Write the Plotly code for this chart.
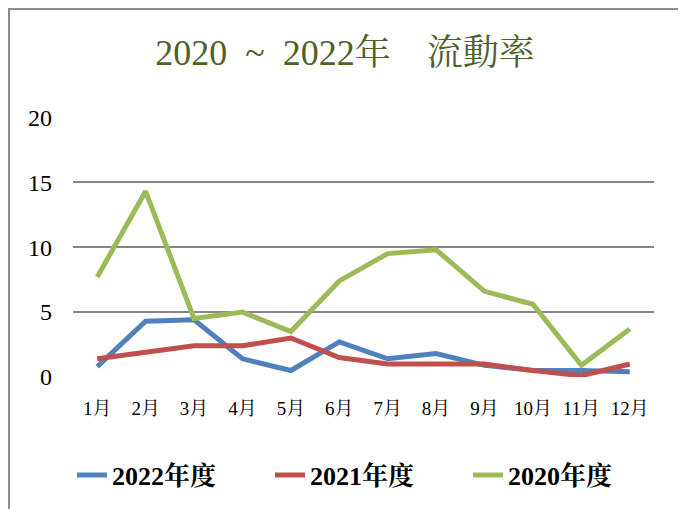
import plotly.graph_objects as go

months = ["1月", "2月", "3月", "4月", "5月", "6月", "7月", "8月", "9月", "10月", "11月", "12月"]
s2022 = [0.8, 4.3, 4.4, 1.4, 0.5, 2.7, 1.4, 1.8, 0.9, 0.5, 0.5, 0.4]
s2021 = [1.4, 1.9, 2.4, 2.4, 3.0, 1.5, 1.0, 1.0, 1.0, 0.5, 0.1, 1.0]
s2020 = [7.7, 14.3, 4.5, 5.0, 3.5, 7.4, 9.5, 9.8, 6.6, 5.6, 0.9, 3.7]
y_ticks = [0, 5, 10, 15, 20]

SERIF = "Liberation Serif, Noto Serif CJK TC, Noto Sans CJK TC, serif"

# page is offset by the body's 8px margin; figure drawn at (8, 8)
W, H = 678, 501
L, T, R, B = 65, 109, 32, 132
PW, PH = W - L - R, H - T - B

fig = go.Figure()
for name, vals, color in [("2022年度", s2022, "#4F81BD"),
                          ("2021年度", s2021, "#C0504D"),
                          ("2020年度", s2020, "#9BBB59")]:
    fig.add_trace(go.Scatter(x=months, y=vals, name=name, mode="lines",
                             line=dict(color=color, width=5)))

fig.update_layout(
    width=W, height=H,
    margin=dict(l=L, r=R, t=T, b=B, autoexpand=False),
    paper_bgcolor="white", plot_bgcolor="white",
    title=dict(text="2020\u2002~\u20022022年　流動率", x=337 / W, xanchor="center",
               y=1 - 44 / H, yanchor="middle",
               font=dict(family=SERIF, size=36, color="#4F6228")),
    xaxis=dict(type="category", range=[-0.5, 11.5], showgrid=False,
               showline=False, zeroline=False, ticks="", ticklabelstandoff=18,
               tickfont=dict(family=SERIF, size=19, color="black")),
    yaxis=dict(range=[0, 20.02], tickvals=y_ticks, showgrid=True,
               gridcolor="#868686", gridwidth=1.5, zeroline=False,
               showline=False, ticks="", ticklabelstandoff=20,
               tickfont=dict(family=SERIF, size=24, color="black")),
    legend=dict(orientation="h", x=(64 - L) / PW, xanchor="left",
                y=(H - B - 467) / PH, yanchor="middle",
                font=dict(family=SERIF, size=26, color="black", weight="bold"),
                entrywidth=153, entrywidthmode="pixels", tracegroupgap=0),
    showlegend=True,
)
fig.add_shape(type="rect", xref="paper", yref="paper",
              x0=(1 - L) / PW, x1=(674 - L) / PW,
              y0=(H - B - 530) / PH, y1=(H - B - 1) / PH,
              line=dict(color="#8C8C8C", width=2), fillcolor="rgba(0,0,0,0)",
              layer="below")
fig.write_html("out.html")
